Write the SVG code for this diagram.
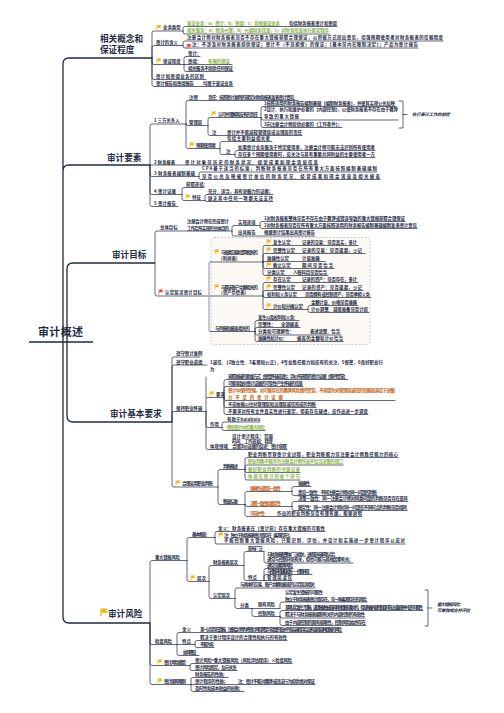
<svg xmlns="http://www.w3.org/2000/svg" xmlns:xlink="http://www.w3.org/1999/xlink" width="504" height="713" viewBox="0 0 504 713">
<style>
.l{fill:none;stroke:#1f2a44;stroke-width:.7;stroke-linecap:round}
.lm{fill:none;stroke:#1f2a44;stroke-width:1.3}
.gb{fill:none;stroke:#b7bac2;stroke-width:1.6}
text{font-family:"Noto Sans CJK SC","Noto Sans",sans-serif;font-size:4.4px;font-weight:600;fill:#1f2a44}
.m{font-size:8.6px;font-weight:bold}
.r{font-size:11px;font-weight:bold}
.g{fill:#86b43c}
.o{fill:#c2610c}
.i{font-style:italic}
</style>
<defs>
<g id="fy"><path d="M0 0V5" stroke="#d79a00" stroke-width=".6"/><path d="M.3 0H4.2L3.2 1.3L4.2 2.7H.3Z" fill="#f5b400"/></g>
<g id="fr"><path d="M0 0V5" stroke="#c93a22" stroke-width=".6"/><path d="M.3 0H4.2L3.2 1.3L4.2 2.7H.3Z" fill="#e8472c"/></g>
</defs>
<rect width="504" height="713" fill="#ffffff"/>
<rect x="211" y="237.5" width="159" height="107" rx="3" fill="#fdfaf6" stroke="#a9a9ad" stroke-width=".6" stroke-dasharray="2 1.5"/>

<g id="connectors">
<path class="lm" d="M29 342H93M63 342V64Q63 58 69 58H152M63 342V171Q63 165 69 165H150M67 342V269Q67 263 73 263H155M67 342V416Q67 422 73 422H172M63 342V617Q63 623 69 623H150"/>
<path class="l" d="M152 58V33Q152 31 154 31H183M152 58V47.5Q152 45.5 154 45.5H183M152 58V62.5Q152 64.5 154 64.5H184M152 58V77.5Q152 79.5 154 79.5H206M152 58V84.5Q152 86.5 154 86.5H233
M183 31V28.5Q183 26.5 185 26.5H337M183 31V32Q183 34 185 34H329
M183 45.5V43Q183 41 185 41H443M183 45.5V46Q183 48 185 48H418
M184 64.5V58.5Q184 56.5 186 56.5H200M184 64.5H232M184 64.5V69.5Q184 71.5 186 71.5H233"/>
<path class="l" d="M150 165V126Q150 124 152 124H186M150 165H318M150 165V174.5Q150 176.5 152 176.5H199M150 165V192.5Q150 194.5 152 194.5H182M150 165V204.5Q150 206.5 152 206.5H178
M186 124V102.5Q186 100.5 188 100.5H298M186 124V123.5Q186 125.5 188 125.5H208M186 124V146.5Q186 148.5 188 148.5H220
M208 125.5V119.5Q208 117.5 210 117.5H261M208 125.5V133.5Q208 135.5 210 135.5H302
M261 117.5V108.5Q261 106.5 263 106.5H396M261 117.5Q261 120 263 120H398M261 117.5V125.5Q261 127.5 263 127.5H342
M220 148.5V143.5Q220 141.5 222 141.5H272M220 148.5V152.5Q220 154.5 222 154.5H235
M235 154.5V152.5Q235 150.5 237 150.5H375M235 154.5V155.5Q235 157.5 237 157.5H375
M199 176.5V174Q199 172 201 172H377M199 176.5V177.5Q199 179.5 201 179.5H380
M182 194.5V189.5Q182 187.5 184 187.5H204M182 194.5V198.5Q182 200.5 184 200.5H205
M205 200.5V196.5Q205 194.5 207 194.5H273M205 200.5Q205 201.5 207 201.5H273"/>
<path class="l" stroke-width=".8" d="M399 101H403V128H399M403 114.5H407"/>
<path class="l" d="M155 263V233Q155 231 157 231H232M155 263V294Q155 296 157 296H209
M232 231V227.5Q232 225.5 234 225.5H260M232 231V234Q232 236 234 236H315
M260 225.5V223.5Q260 221.5 262 221.5H405M260 225.5V226.5Q260 228.5 262 228.5H417
M210 262H263M209 296H263M210 331.5H255
M263 262V247.5Q263 245.5 265 245.5H358M263 262V255.5Q263 253.5 265 253.5H365M263 261.5H325M263 262V266.5Q263 268.5 265 268.5H334M263 262V273.5Q263 275.5 265 275.5H328
M263 296V284.5Q263 282.5 265 282.5H358M263 296V292.5Q263 290.5 265 290.5H363M263 296Q263 297.5 265 297.5H371M263 296V307.5Q263 309.5 265 309.5H308
M308 309.5V307.5Q308 305.5 310 305.5H358M308 309.5V310.5Q308 312.5 310 312.5H369
M255 331.5V322.5Q255 320.5 257 320.5H299M255 331.5V329.5Q255 327.5 257 327.5H300M255 331.5V333Q255 335 257 335H341M255 331.5V339.5Q255 341.5 257 341.5H343"/>
<path class="gb" d="M209 262V331.5"/>
<path class="l" d="M172 422V359Q172 357 174 357H200M172 422V367Q172 365 174 365H207M172 422V413.5Q172 411.5 174 411.5H206M172 422V485Q172 487 174 487H218
M206 411.5V399.5Q206 397.5 208 397.5H224M206 411.5V425.5Q206 427.5 208 427.5H222M206 411.5V447.5Q206 449.5 208 449.5H287M206 377V398
M224 397.5V381.5Q224 379.5 226 379.5H348M224 397.5V388.5Q224 386.5 226 386.5H303M224 397.5V398.5Q224 400.5 226 400.5H395M224 397.5V405.5Q224 407.5 226 407.5H316M224 397.5V412.5Q224 414.5 226 414.5H368
M222 427.5V424Q222 422 224 422H260M222 427.5V428.5Q222 430.5 224 430.5H265
M218 487V471.5Q218 469.5 220 469.5H245M218 487V502.5Q218 504.5 220 504.5H245
M245 469.5V459.5Q245 457.5 247 457.5H398M245 469.5V467Q245 465 247 465H343M245 469.5V470.5Q245 472.5 247 472.5H300M245 469.5V478Q245 480 247 480H300
M245 504.5V493.5Q245 491.5 247 491.5H292M245 504.5Q245 506.5 247 506.5H292M245 504.5V514.5Q245 516.5 247 516.5H362
M292 491.5V488.5Q292 486.5 294 486.5H311M292 491.5V493.5Q292 495.5 294 495.5H377
M292 506.5V503.5Q292 501.5 294 501.5H408M292 506.5V508.5Q292 510.5 294 510.5H407"/>
<path class="l" d="M150 623V562.5Q150 560.5 152 560.5H187M150 623V642.5Q150 644.5 152 644.5H177M150 623V663.5Q150 665.5 152 665.5H190M150 623V682.5Q150 684.5 152 684.5H191
M187 560.5V539.5Q187 537.5 189 537.5H215M187 560.5V579.5Q187 581.5 189 581.5H209
M215 537.5V533.5Q215 531.5 217 531.5H325M215 537.5V542Q215 544 217 544H405
M209 581.5V567.5Q209 565.5 211 565.5H244M209 581.5V596.5Q209 598.5 211 598.5H235
M244 565.5V553.5Q244 551.5 246 551.5H264M244 565.5V578.5Q244 580.5 246 580.5H264
M264 551.5V561Q264 563 266 563H353
M264 580.5V570.5Q264 568.5 266 568.5H293M264 580.5V576.5Q264 574.5 266 574.5H312M264 580.5H292
M235 598.5V590Q235 588 237 588H315M235 598.5V606.5Q235 608.5 237 608.5H252
M252 608.5H280M252 608.5V614.5Q252 616.5 254 616.5H280
M280 608.5V604Q280 602 282 602H367
M280 616.5V612.5Q280 610.5 282 610.5H423M280 616.5Q280 618 282 618H365M280 616.5V623.5Q280 625.5 282 625.5H366
M177 644.5V634.5Q177 632.5 179 632.5H342M177 644.5H195M177 644.5V653.5Q177 655.5 179 655.5H199
M195 644.5V642.5Q195 640.5 197 640.5H287M195 644.5V645.5Q195 647.5 197 647.5H214
M190 665.5Q190 663.5 192 663.5H292M190 665.5V668.5Q190 670.5 192 670.5H237
M191 684.5V679.5Q191 677.5 193 677.5H228M191 684.5H315M191 684.5V689.5Q191 691.5 193 691.5H244"/>
<path class="l" stroke-width=".8" d="M425 590H428V626H425M428 608H432"/>
</g>

<g id="root"><text class="r" x="38" y="336" textLength="45">审计概述</text></g>

<g id="n1"><text class="m" x="100" y="41.5">相关概念和</text><text class="m" x="100" y="53">保证程度</text></g>
<g id="n1a"><use href="#fy" x="157" y="25"/><text x="163" y="29.1">业务类型</text></g>
<g id="n1a1"><text class="g" x="187" y="24.6" textLength="93">鉴证业务：a）审计；b）审阅；c）其他鉴证业务</text><text x="289" y="24.6" textLength="48">包括财务报表审计和审阅</text></g>
<g id="n1a2"><text class="g" x="187" y="32.1" textLength="142">相关服务：a）税务代理；b）代编财务信息；c）对财务信息执行商定程序</text></g>
<g id="n1b"><text x="156" y="43.6">审计的含义</text></g>
<g id="n1b1"><text x="187" y="39.1" textLength="256">注册会计师对财务报表是否不存在重大错报获取合理保证，以积极方式提出意见，增强预期使用者对财务报表的信赖程度</text></g>
<g id="n1b2"><use href="#fr" x="187" y="44"/><text x="192" y="46.1" textLength="226">注：不涉及对财务报表提供保证；审计不（不是担保）的保证；【基本是内在限制决定】；产品为审计报告</text></g>
<g id="n1c"><use href="#fy" x="157" y="58.5"/><text x="163" y="62.6">保证程度</text></g>
<g id="n1c1"><text x="188" y="54.6">审计：</text></g>
<g id="n1c2"><text x="188" y="62.6">审阅：</text><text class="g" x="208" y="62.6">有限的保证</text></g>
<g id="n1c3"><text x="188" y="69.6" textLength="45">相关服务不提供任何保证</text></g>
<g id="n1d"><text x="156" y="77.6" textLength="48">审计和审阅业务的区别</text></g>
<g id="n1e"><text x="156" y="84.6" textLength="38">审计报告和审阅报告</text><text x="203" y="84.6" textLength="30">均属于鉴证业务</text></g>

<g id="n2"><text class="m" x="107" y="161.2">审计要素</text></g>
<g id="n2a"><text x="154" y="121.6">1 三方关系人</text></g>
<g id="n2a1"><text x="189" y="98.6">注师</text><text x="208" y="98.6" textLength="90">责任：按照审计准则的规定对财务报表发表审计意见。</text></g>
<g id="n2a2"><text x="189" y="123.6">管理层</text></g>
<g id="n2a2a"><use href="#fy" x="212" y="111.5"/><text x="218" y="115.6" textLength="40">认可并理解其应有的责任</text></g>
<g id="n2a2a1"><text x="264" y="104.6" textLength="131">1按照适用的财务报告编制基础【编制财务报表】，并使其实现公允反映</text></g>
<g id="n2a2a2"><text x="264" y="111.1" textLength="134">2设计、执行和维护必要的【内部控制】，以使财务报表不存在由于舞弊</text><text x="264" y="117.6" textLength="35">导致的重大错报</text></g>
<g id="n2a2a3"><text x="264" y="125.6" textLength="78">3向注册会计师提供必要的【工作条件】；</text></g>
<g id="n2pre"><text class="i" x="412" y="115.6" textLength="38">执行审计工作的前提</text></g>
<g id="n2a2b"><text x="212" y="133.6">注</text><text x="227" y="133.6" textLength="75">审计并不能减轻管理层或治理层的责任</text></g>
<g id="n2a3"><use href="#fy" x="190" y="142.5"/><text x="196" y="146.6" textLength="20">预期使用者</text></g>
<g id="n2a3a"><text x="227" y="139.6" textLength="43">包括主要利益相关者</text></g>
<g id="n2a3b"><text x="226" y="152.6">注</text></g>
<g id="n2a3b1"><text x="238" y="148.6" textLength="137">如果审计业务服务于特定使用者，注册会计师可能无法识别所有使用者</text></g>
<g id="n2a3b2"><text x="238" y="155.6" textLength="137">存在多个预期使用者时，应关注与其有重要共同利益的主要使用者一方</text></g>
<g id="n2b"><text x="154" y="163.6">2 财务报表</text><text x="185" y="163.6" textLength="133">审计对象是历史的财务状况、经营成果和现金流量信息</text></g>
<g id="n2c"><text x="154" y="174.6" textLength="41">3 财务报表编制基础</text></g>
<g id="n2c1"><text x="202" y="170.4" textLength="175">CPA基于适当的标准，判断财务报表是否在所有重大方面按照编制基础编制</text></g>
<g id="n2c2"><text x="202" y="177.6" textLength="178">是否公允反映被审计单位的财务状况、经营成果和现金流量及相关披露</text></g>
<g id="n2d"><text x="154" y="192.6" textLength="22">4 审计证据</text></g>
<g id="n2d1"><text x="186" y="185.6">获取途径：</text></g>
<g id="n2d2"><use href="#fy" x="186" y="194.5"/><text x="192" y="198.6">特征</text></g>
<g id="n2d2a"><text x="208" y="192.6" textLength="65">充分、适当，具有说服力的证据；</text></g>
<g id="n2d2b"><text x="208" y="199.6" textLength="65">缺乏其中任何一项都无法支持</text></g>
<g id="n2e"><text x="154" y="204.6" textLength="22">5 审计报告</text></g>

<g id="n3"><text class="m" x="112" y="258.2">审计目标</text></g>
<g id="n3a"><text x="160" y="228.6">总体目标</text></g>
<g id="n3a1"><text x="187" y="223.1" textLength="42">注册会计师在完成审计</text><text x="187" y="229.6" textLength="42">工作后所实现的总体目的</text></g>
<g id="n3a1a"><text x="238" y="223.6">实现途径</text></g>
<g id="n3a1a1"><text x="264" y="219.6" textLength="141">1对财务报表整体是否不存在由于舞弊或错误导致的重大错报获取合理保证</text></g>
<g id="n3a1a2"><text x="264" y="226.6" textLength="153">2对财务报表是否在所有重大方面按照适用的财务报告编制基础编制发表审计意见</text></g>
<g id="n3a1b"><text x="238" y="234.1">出具报告</text><text x="264" y="234.1" textLength="51">根据审计结果出具审计报告</text></g>
<g id="n3b"><use href="#fr" x="159" y="289.5"/><text x="165" y="293.6" textLength="37">认定层次审计目标</text></g>
<g id="n3b1"><use href="#fy" x="215" y="249.5"/><text x="221" y="253.6" textLength="37">与各类交易和事项相关的</text><text x="221" y="259.6">(利润表)</text></g>
<g id="n3b1a"><use href="#fy" x="267" y="239.5"/><text x="273" y="243.6">发生认定</text><text x="302" y="243.6" textLength="55">记录的交易：是否真实，多计</text></g>
<g id="n3b1b"><use href="#fy" x="267" y="247.5"/><text x="273" y="251.6">完整性认定</text><text x="302" y="251.6" textLength="60">记录的交易：是否遗漏，少记</text></g>
<g id="n3b1c"><text x="267" y="259.6">准确性认定</text><text x="302" y="259.6">计量准确</text></g>
<g id="n3b1d"><use href="#fy" x="267" y="262.5"/><text x="273" y="266.6">截止认定</text><text x="302" y="266.6" textLength="31">期间是否恰当</text></g>
<g id="n3b1e"><text x="267" y="273.6">分类认定</text><text x="293" y="273.6" textLength="34">入账科目是否恰当</text></g>
<g id="n3b2"><use href="#fy" x="215" y="284.5"/><text x="221" y="288.6" textLength="37">与期末账户余额相关的</text><text x="221" y="294.1">(资产负债表)</text></g>
<g id="n3b2a"><use href="#fy" x="267" y="276.5"/><text x="273" y="280.6">存在认定</text><text x="302" y="280.6" textLength="55">记录的资产：是否存在，多计</text></g>
<g id="n3b2b"><use href="#fy" x="267" y="284.5"/><text x="273" y="288.6">完整性认定</text><text x="302" y="288.6" textLength="60">记录的资产：是否遗漏，少记</text></g>
<g id="n3b2c"><text x="267" y="295.6" textLength="30">权利和义务认定</text><text x="305" y="295.6" textLength="65">是否拥有或控制资产，是否承担义务</text></g>
<g id="n3b2d"><use href="#fy" x="267" y="303.5"/><text x="273" y="307.6" textLength="30">计价和分摊认定</text></g>
<g id="n3b2d1"><text x="311" y="303.6" textLength="46">金额计量、价格是否准确</text></g>
<g id="n3b2d2"><text x="311" y="310.6" textLength="57">计价调整、减值准备是否计提</text></g>
<g id="n3b3"><text x="215" y="329.6" textLength="35">与列报和披露相关的</text></g>
<g id="n3b3a"><text x="258" y="318.6" textLength="40">发生以及权利和义务：</text></g>
<g id="n3b3b"><text x="258" y="325.6">完整性：</text><text x="281" y="325.6">全部披露</text></g>
<g id="n3b3c"><text x="258" y="333.1" textLength="36">分类和可理解性：</text><text x="310" y="333.1" textLength="30">表述清楚、恰当</text></g>
<g id="n3b3d"><text x="258" y="340.1" textLength="29">准确性和计价：</text><text x="297" y="340.1" textLength="46">披露的金额和计价恰当</text></g>

<g id="n4"><text class="m" x="110" y="417.2">审计基本要求</text></g>
<g id="n4a"><text x="176" y="355.1">遵守审计准则</text></g>
<g id="n4b"><text x="176" y="363.6">遵守职业道德</text><text x="210" y="363.6" textLength="173">1诚信、【2独立性、3客观和公正】，4专业胜任能力和应有的关注，5保密，6良好职业行</text><text x="210" y="371.1">为</text></g>
<g id="n4c"><text x="176" y="409.6">保持职业怀疑</text></g>
<g id="n4c1"><use href="#fy" x="210" y="391.5"/><text x="216" y="395.6">要求</text></g>
<g id="n4c1a"><text x="228" y="377.6" textLength="120">采取质疑的思维方式【审慎怀疑态度】；评价所获取的审计证据【保持警觉】</text></g>
<g id="n4c1b"><text x="228" y="384.6" textLength="75">可能导致对审计证据的可靠性产生怀疑的信息</text></g>
<g id="n4c1c"><text class="o" x="228" y="392.1" textLength="167">审计中保持警惕，对可能存在的舞弊风险保持警觉，不得因为对管理层诚信的信赖而满足于说服</text><text class="o" x="228" y="398.6" textLength="55">力不足的审计证据</text></g>
<g id="n4c1d"><text x="228" y="405.6" textLength="88">不应依赖以往对管理层和治理层诚信形成的判断</text></g>
<g id="n4c1e"><text x="228" y="412.6" textLength="140">不要求对所有文件真实性进行鉴定，但若存在疑虑，应作出进一步调查</text></g>
<g id="n4c2"><text x="210" y="425.6">作用</text></g>
<g id="n4c2a"><text x="227" y="420.6" textLength="33">有助于balabala</text></g>
<g id="n4c2b"><text class="g" x="227" y="429.1" textLength="38">降低审计中的重大风险</text></g>
<g id="n4c3"><text x="210" y="447.6" textLength="18">体现领域</text><text x="232" y="437.6" textLength="41">设计审计程序：范围</text><text x="232" y="443.1" textLength="41">时间、工作底稿：程度</text><text x="232" y="448.1" textLength="55">合理评价证据的结论：审计获取</text></g>
<g id="n4d"><use href="#fy" x="176" y="480.5"/><text x="182" y="484.6" textLength="31">合理运用职业判断</text></g>
<g id="n4d1"><text x="223" y="467.6" textLength="15">判断概述</text></g>
<g id="n4d1a"><text x="248" y="455.6" textLength="150">职业判断贯穿审计全过程，职业判断能力是注册会计师胜任能力的核心</text></g>
<g id="n4d1b"><text class="g" x="248" y="463.1" textLength="95">职业判断不能作为注册会计师作出不恰当决策的借口</text></g>
<g id="n4d1c"><text class="g" x="248" y="470.6" textLength="52">做好职业判断的书面记录</text></g>
<g id="n4d1d"><text class="g" x="248" y="478.1" textLength="52">体现在审计的各个环节</text></g>
<g id="n4d2"><text x="223" y="502.6" textLength="15">衡量标准</text></g>
<g id="n4d2a"><text class="o" x="250" y="489.6" textLength="31">准确性或意见一致性</text></g>
<g id="n4d2a1"><text x="298" y="484.6" textLength="12">准确性</text></g>
<g id="n4d2a2"><text x="298" y="493.6" textLength="79">意见一致性：不同注册会计师对同一问题的判断</text></g>
<g id="n4d2b"><text class="o" x="250" y="504.6" textLength="31">决策一致性和稳定性</text></g>
<g id="n4d2b1"><text x="298" y="499.6" textLength="110">决策一致性：同一注册会计师对同类问题的判断是否存在差异</text></g>
<g id="n4d2b2"><text x="298" y="508.6" textLength="109">稳定性：同一注册会计师对同一问题在不同时点的判断是否相同</text></g>
<g id="n4d2c"><text class="o" x="250" y="514.6" textLength="15">可辩护性</text><text x="277" y="514.6" textLength="85">作出的职业判断是否有理有据，能够说明</text></g>

<g id="n5"><use href="#fy" transform="translate(101 608.5) scale(1.6)"/><text class="m" x="108" y="617.2">审计风险</text></g>
<g id="n5a"><text x="155" y="558.6" textLength="25">重大错报风险</text></g>
<g id="n5a1"><text x="192" y="535.6" textLength="15">基本概念</text></g>
<g id="n5a1a"><text x="218" y="529.6" textLength="107">含义：财务报表在【审计前】存在重大错报的可能性</text></g>
<g id="n5a1b"><use href="#fy" x="219" y="532.5"/><text x="224" y="536.6" textLength="69">注：独立于财务报表审计而存在【客观存在】；</text><text x="224" y="542.1" textLength="181">不能控制重大错报风险，只能识别、评估，并设计和实施进一步审计程序以应对</text></g>
<g id="n5a2"><use href="#fy" x="191" y="575.5"/><text x="197" y="579.6">层次</text></g>
<g id="n5a2a"><text x="213" y="563.6" textLength="25">财务报表层次</text></g>
<g id="n5a2a1"><text x="248" y="549.6" textLength="15">影响广泛</text><text x="267" y="555.6" textLength="71">与财务报表整体广泛相关，进而影响多项认定；</text><text x="267" y="561.1" textLength="86">通常与控制环境有关，但也可能与其他因素有关；</text></g>
<g id="n5a2a2"><text x="248" y="578.6">特点</text><text x="267" y="567.1" textLength="26">通常是舞弊风险</text><text x="267" y="573.1" textLength="45">与控制环境缺陷相关——控制环境：</text><text x="267" y="579.1" textLength="25">管理层凌驾</text></g>
<g id="n5a2b"><text x="213" y="596.6" textLength="17">认定层次</text></g>
<g id="n5a2b1"><text x="240" y="586.1" textLength="75">与具体的交易、账户余额和披露的认定层次相关</text></g>
<g id="n5a2b2"><text x="240" y="606.6">分类</text></g>
<g id="n5a2b2a"><text x="258" y="606.1" textLength="17">固有风险</text><text x="285" y="593.6" textLength="38">认定发生错报的可能性</text><text x="285" y="600.6" textLength="82">独立于财务报表审计而存在，是一种客观存在的风险</text></g>
<g id="n5a2b2b"><text x="258" y="614.6" textLength="17">控制风险</text><text x="285" y="608.6" textLength="138">某项认定发生了错报，该错报单独或连同其他错报是重大的，但没有被内部控制及时防止或发现并纠正的可能性</text><text x="285" y="616.1" textLength="80">取决于与财务报表编制有关的内部控制的有效性</text><text x="285" y="623.6" textLength="81">由于内部控制的固有局限性，控制风险始终存在</text></g>
<g id="n5note"><text class="i" x="437" y="605.6" textLength="26">重大错报风险：</text><text class="i" x="437" y="612.1" textLength="33">可单独或合并评估</text></g>
<g id="n5b"><text x="155" y="642.6" textLength="17">检查风险</text></g>
<g id="n5b1"><text x="182" y="630.6">含义</text><text x="200" y="630.6" textLength="142">某一认定存在错报，注册会计师为将审计风险降至可接受的低水平而实施程序后没有发现这种错报的风险</text></g>
<g id="n5b2"><text x="182" y="642.6">特点</text></g>
<g id="n5b2a"><text x="200" y="638.6" textLength="87">取决于审计程序设计的合理性和执行的有效性</text></g>
<g id="n5b2b"><text x="200" y="645.6" textLength="14">不能为零</text></g>
<g id="n5b3"><text x="183" y="653.6" textLength="16">如何降低：</text></g>
<g id="n5c"><use href="#fy" x="158" y="659.5"/><text x="164" y="663.6" textLength="22">审计风险模型</text></g>
<g id="n5c1"><text x="195" y="661.6" textLength="97">审计风险=重大错报风险（风险评估程序）×检查风险</text></g>
<g id="n5c2"><text x="195" y="668.6" textLength="42">审计风险既定，反向关系</text></g>
<g id="n5d"><use href="#fy" x="158" y="678.5"/><text x="164" y="682.6" textLength="22">审计固有限制</text></g>
<g id="n5d1"><text x="195" y="675.6" textLength="32">财务报告的性质；</text></g>
<g id="n5d2"><text x="195" y="682.6" textLength="33">审计程序的性质；</text><text x="238" y="682.6" textLength="77">注：审计不能对舞弊或违法行为提供绝对保证</text></g>
<g id="n5d3"><text x="195" y="689.6" textLength="48">及时性和成本效益的权衡；</text></g>
</svg>
